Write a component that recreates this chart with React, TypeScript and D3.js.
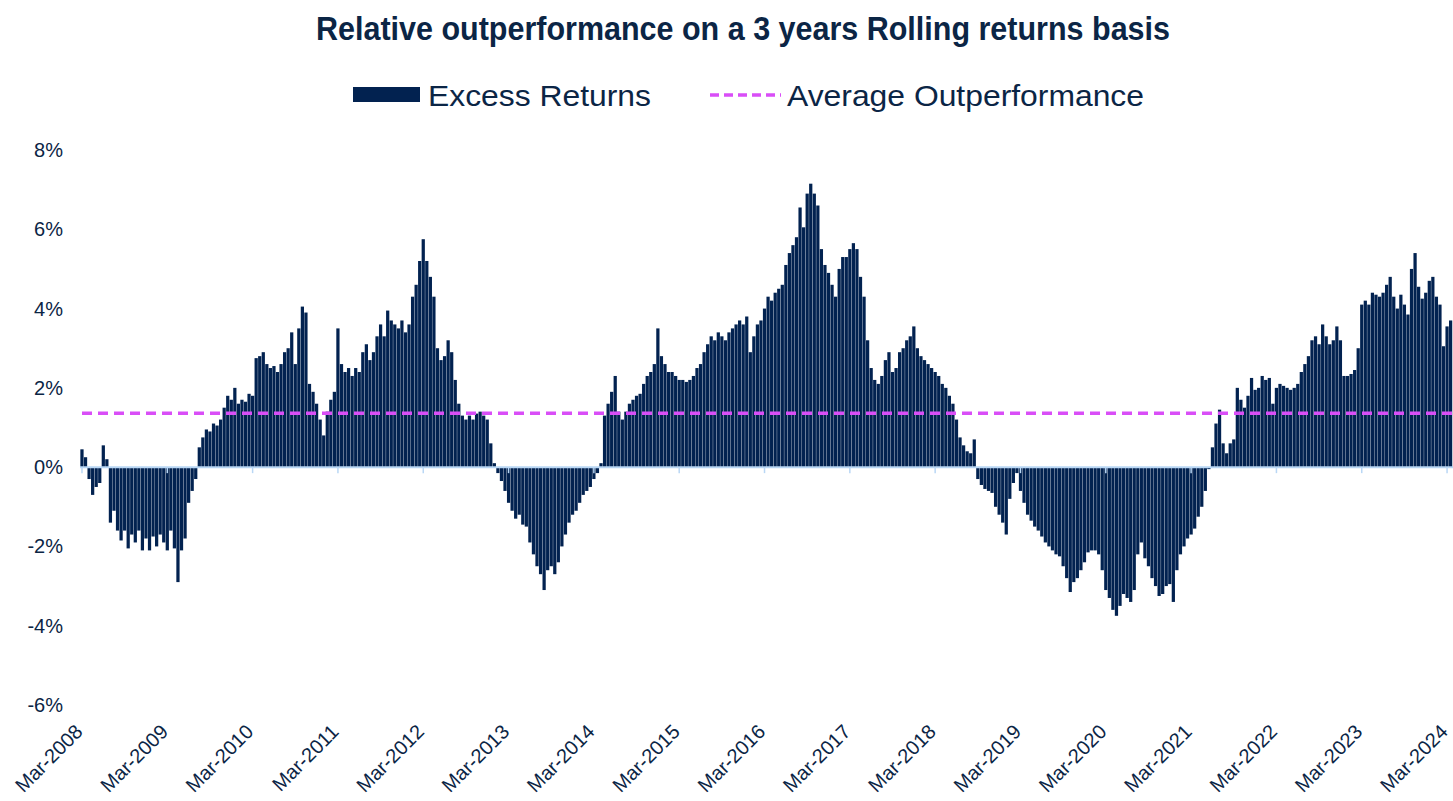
import React from 'react';
import * as d3 from 'd3';

// Semi-monthly 3-year rolling excess returns (%), Mar of year -> Feb of next year
const excess2008 = [0.45,0.25,-0.3,-0.7,-0.5,-0.4,0.55,0.2,-1.4,-1.1,-1.6,-1.85,-1.6,-2.05,-1.7,-1.9,-1.6,-2.1,-1.8,-2.1,-1.75,-2.0,-1.7,-1.9];
const excess2009 = [-2.1,-1.6,-2.05,-2.9,-2.1,-1.8,-0.9,-0.6,-0.3,0.5,0.75,0.95,0.9,1.1,1.05,1.2,1.5,1.8,1.7,2.0,1.6,1.7,1.65,1.85];
const excess2010 = [1.8,2.75,2.8,2.9,2.6,2.5,2.55,2.4,2.6,2.9,3.0,3.4,2.6,3.5,4.05,3.9,2.1,1.9,1.6,1.2,0.8,1.4,1.7,1.9];
const excess2011 = [3.5,2.6,2.4,2.5,2.3,2.5,2.4,2.9,3.1,2.7,2.9,3.3,3.6,3.3,3.95,3.7,3.6,3.5,3.7,3.4,3.6,4.3,4.6,5.2];
const excess2012 = [5.75,5.2,4.8,4.3,3.0,2.7,2.8,3.2,2.9,2.2,1.6,1.3,1.2,1.3,1.2,1.35,1.4,1.3,1.2,0.6,0.1,-0.15,-0.35,-0.6];
const excess2013 = [-0.9,-1.1,-1.3,-1.2,-1.45,-1.5,-1.9,-2.2,-2.5,-2.7,-3.1,-2.6,-2.5,-2.7,-2.4,-2.0,-1.7,-1.4,-1.2,-1.1,-0.9,-0.7,-0.6,-0.5];
const excess2014 = [-0.3,-0.15,0.1,1.3,1.6,1.9,2.3,1.4,1.2,1.4,1.6,1.7,1.8,1.85,2.1,2.3,2.4,2.6,3.5,2.8,2.6,2.4,2.4,2.3];
const excess2015 = [2.2,2.2,2.15,2.2,2.3,2.5,2.6,2.9,3.1,3.3,3.2,3.4,3.3,3.2,3.4,3.5,3.6,3.7,3.6,3.8,2.9,3.3,3.6,3.7];
const excess2016 = [4.0,4.3,4.2,4.4,4.5,4.6,5.1,5.4,5.6,5.8,6.55,6.05,6.9,7.15,6.9,6.6,5.5,5.1,4.9,4.6,4.3,5.0,5.3,5.3];
const excess2017 = [5.5,5.65,5.5,4.8,4.3,3.2,2.5,2.2,2.1,2.3,2.7,2.9,2.4,2.5,2.9,3.0,3.2,3.3,3.55,3.0,2.8,2.7,2.6,2.5];
const excess2018 = [2.4,2.3,2.1,2.0,1.8,1.6,1.2,0.75,0.55,0.4,0.35,0.7,-0.3,-0.45,-0.55,-0.6,-0.65,-1.0,-1.2,-1.4,-1.7,-0.8,-0.4,-0.15];
const excess2019 = [-0.6,-0.9,-1.2,-1.35,-1.5,-1.6,-1.75,-1.9,-2.0,-2.1,-2.2,-2.25,-2.5,-2.8,-3.15,-2.9,-2.8,-2.6,-2.4,-2.15,-2.1,-2.1,-2.2,-2.6];
const excess2020 = [-3.1,-3.3,-3.6,-3.75,-3.5,-3.2,-3.3,-3.4,-3.1,-2.2,-1.9,-2.3,-2.5,-2.8,-3.0,-3.25,-3.2,-3.0,-2.95,-3.4,-2.6,-2.2,-2.0,-1.8];
const excess2021 = [-1.7,-1.55,-1.25,-1.0,-0.6,-0.05,0.5,1.1,1.45,0.6,0.35,0.6,0.7,2.0,1.7,1.5,1.8,2.25,1.95,2.0,2.3,2.2,2.25,1.6];
const excess2022 = [2.0,2.1,2.05,2.0,1.95,2.0,2.1,2.4,2.6,2.8,3.2,3.3,3.1,3.6,3.3,3.1,3.2,3.55,3.2,2.3,2.3,2.35,2.45,3.0];
const excess2023 = [4.1,4.2,4.1,4.4,4.35,4.3,4.4,4.6,4.8,4.3,4.0,4.35,4.1,3.85,5.0,5.4,4.55,4.25,4.4,4.7,4.8,4.3,4.1,3.05];
const excess2024 = [3.55,3.7];

const averageOutperformance = 1.36;

const xTickLabels = ['Mar-2008','Mar-2009','Mar-2010','Mar-2011','Mar-2012','Mar-2013','Mar-2014','Mar-2015','Mar-2016','Mar-2017','Mar-2018','Mar-2019','Mar-2020','Mar-2021','Mar-2022','Mar-2023','Mar-2024'];
const yTicks = [8, 6, 4, 2, 0, -2, -4, -6];

const TITLE = 'Relative outperformance on a 3 years Rolling returns basis';
const NAVY = '#022250';
const TEXT = '#0b2545';
const MAGENTA = '#d94ef7';
const AXIS = '#b9d7f5';
const FONT = '"Liberation Sans", Arial, sans-serif';

export default function App() {
  const values = [
    ...excess2008, ...excess2009, ...excess2010, ...excess2011, ...excess2012,
    ...excess2013, ...excess2014, ...excess2015, ...excess2016, ...excess2017,
    ...excess2018, ...excess2019, ...excess2020, ...excess2021, ...excess2022,
    ...excess2023, ...excess2024,
  ];
  const idx = values.map((_, i) => i);
  const pad = 0.09;
  const x = d3.scaleBand<number>().domain(idx).range([80.2, 1452.4]).paddingInner(pad).paddingOuter(pad / 2);
  const center = (i: number) => (x(i) as number) + x.bandwidth() / 2;
  const y = d3.scaleLinear().domain([-6, 8]).range([705, 150]);
  const y0 = y(0);
  const perYear = 24;

  return (
    <svg width={1453} height={801} style={{ position: 'absolute', left: 0, top: 0, background: '#fff' }} fontFamily={FONT}>
      <text x={743} y={40} textAnchor="middle" fontSize={34} fontWeight="bold" fill={TEXT} textLength={854} lengthAdjust="spacingAndGlyphs">{TITLE}</text>

      {/* Legend */}
      <rect x={353} y={87} width={67} height={15} fill={NAVY} />
      <text x={428} y={106} fontSize={30} fill={TEXT} textLength={223} lengthAdjust="spacingAndGlyphs">Excess Returns</text>
      <line x1={710} x2={781} y1={95} y2={95} stroke={MAGENTA} strokeWidth={3.5} strokeDasharray="9,5" />
      <text x={787} y={106} fontSize={30} fill={TEXT} textLength={357} lengthAdjust="spacingAndGlyphs">Average Outperformance</text>

      {/* Y axis labels */}
      {yTicks.map((t) => (
        <text key={t} x={63} y={y(t) + 7} textAnchor="end" fontSize={20} fill={TEXT}>{`${t}%`}</text>
      ))}

      {/* Bars */}
      <g>
        {values.map((v, i) => (
          <rect key={i} x={x(i)} width={x.bandwidth()} y={y(Math.max(0, v))} height={Math.abs(y(v) - y0)} fill={NAVY} />
        ))}
      </g>

      {/* Zero axis */}
      <line x1={80} x2={1453} y1={y0} y2={y0} stroke={AXIS} strokeWidth={2} />
      {xTickLabels.map((lab, k) => {
        const tx = center(k * perYear);
        return (
          <g key={lab}>
            <line x1={tx} x2={tx} y1={y0} y2={y0 + 6} stroke={AXIS} strokeWidth={1.5} />
            <text transform={`translate(${tx + 2},733) rotate(-45)`} textAnchor="end" fontSize={20} fill={TEXT}>{lab}</text>
          </g>
        );
      })}

      {/* Average line */}
      <line x1={82} x2={1453} y1={y(averageOutperformance)} y2={y(averageOutperformance)} stroke={MAGENTA} strokeWidth={3.5} strokeDasharray="10,6" />
    </svg>
  );
}
